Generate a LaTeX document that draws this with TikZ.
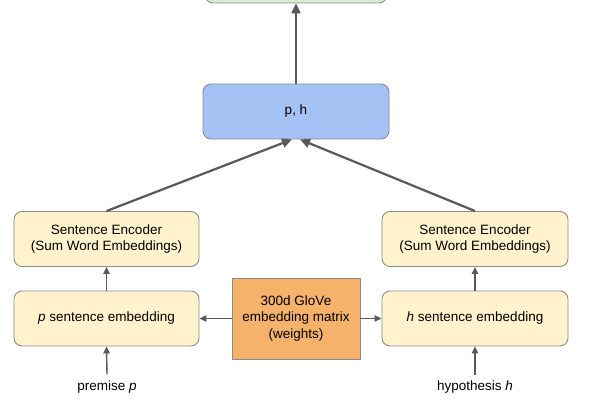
\documentclass[tikz,border=0pt]{standalone}
\usepackage{fontspec}
\setmainfont{Liberation Sans}
\usetikzlibrary{arrows.meta}
\definecolor{yel}{HTML}{FFF2CC}
\definecolor{blu}{HTML}{A4C2F4}
\definecolor{org}{HTML}{F6B26B}
\definecolor{grn}{HTML}{D9EAD3}
\definecolor{edge}{HTML}{8C8C8C}
\definecolor{arr}{HTML}{595959}
\tikzset{
  box/.style={draw=edge, line width=0.9pt, rounded corners=8pt, minimum width=185pt, minimum height=55pt, align=center, inner sep=0pt, font=\fontsize{13.5}{16.5}\selectfont},
  ybox/.style={box, fill=yel},
  bigarr/.style={draw=arr, line width=2.2pt, -{Triangle[length=10pt,width=9pt]}},
  smallarr/.style={draw=arr, line width=1.4pt, -{Triangle[length=7pt,width=6.5pt]}},
  lbl/.style={font=\fontsize{13.5}{16.5}\selectfont, inner sep=0pt}
}
\begin{document}
\begin{tikzpicture}[x=1pt,y=1pt]
\clip (0,0) rectangle (600,400);
\fill[white] (0,0) rectangle (600,400);
\node[box, fill=grn, minimum width=182pt, minimum height=50pt] (green) at (296,422) {};
\node[box, fill=blu, minimum width=186pt] (blue) at (296,288.5) {p, h};
\node[ybox] (lenc) at (106.5,161) {Sentence Encoder\\(Sum Word Embeddings)};
\node[ybox, minimum width=186pt] (renc) at (475,161) {Sentence Encoder\\(Sum Word Embeddings)};
\node[ybox] (lemb) at (106.5,81.5) {\textit{p} sentence embedding};
\node[ybox, minimum width=186pt] (remb) at (475,81.5) {\textit{h} sentence embedding};
\node[box, fill=org, rounded corners=0pt, minimum width=128pt, minimum height=81pt] (glove) at (296,81.5) {300d GloVe\\embedding matrix\\(weights)};
\node[lbl] (prem) at (107,13) {premise \textit{p}};
\node[lbl] (hyp) at (475,13) {hypothesis \textit{h}};
\draw[bigarr] (blue.north) -- (green.south);
\draw[bigarr] (lenc.north) -- ([xshift=-4pt]blue.south);
\draw[bigarr] (renc.north) -- ([xshift=4pt]blue.south);
\draw[smallarr] (lemb.north) -- (lenc.south);
\draw[smallarr] (remb.north) -- (renc.south);
\draw[smallarr] (prem.north) ++(0,6) coordinate (pt) (pt) -- (lemb.south);
\draw[smallarr] (hyp.north) ++(0,6) coordinate (ht) (ht) -- (remb.south);
\draw[smallarr] (glove.west) -- (lemb.east);
\draw[smallarr] (glove.east) -- (remb.west);
\end{tikzpicture}
\end{document}
